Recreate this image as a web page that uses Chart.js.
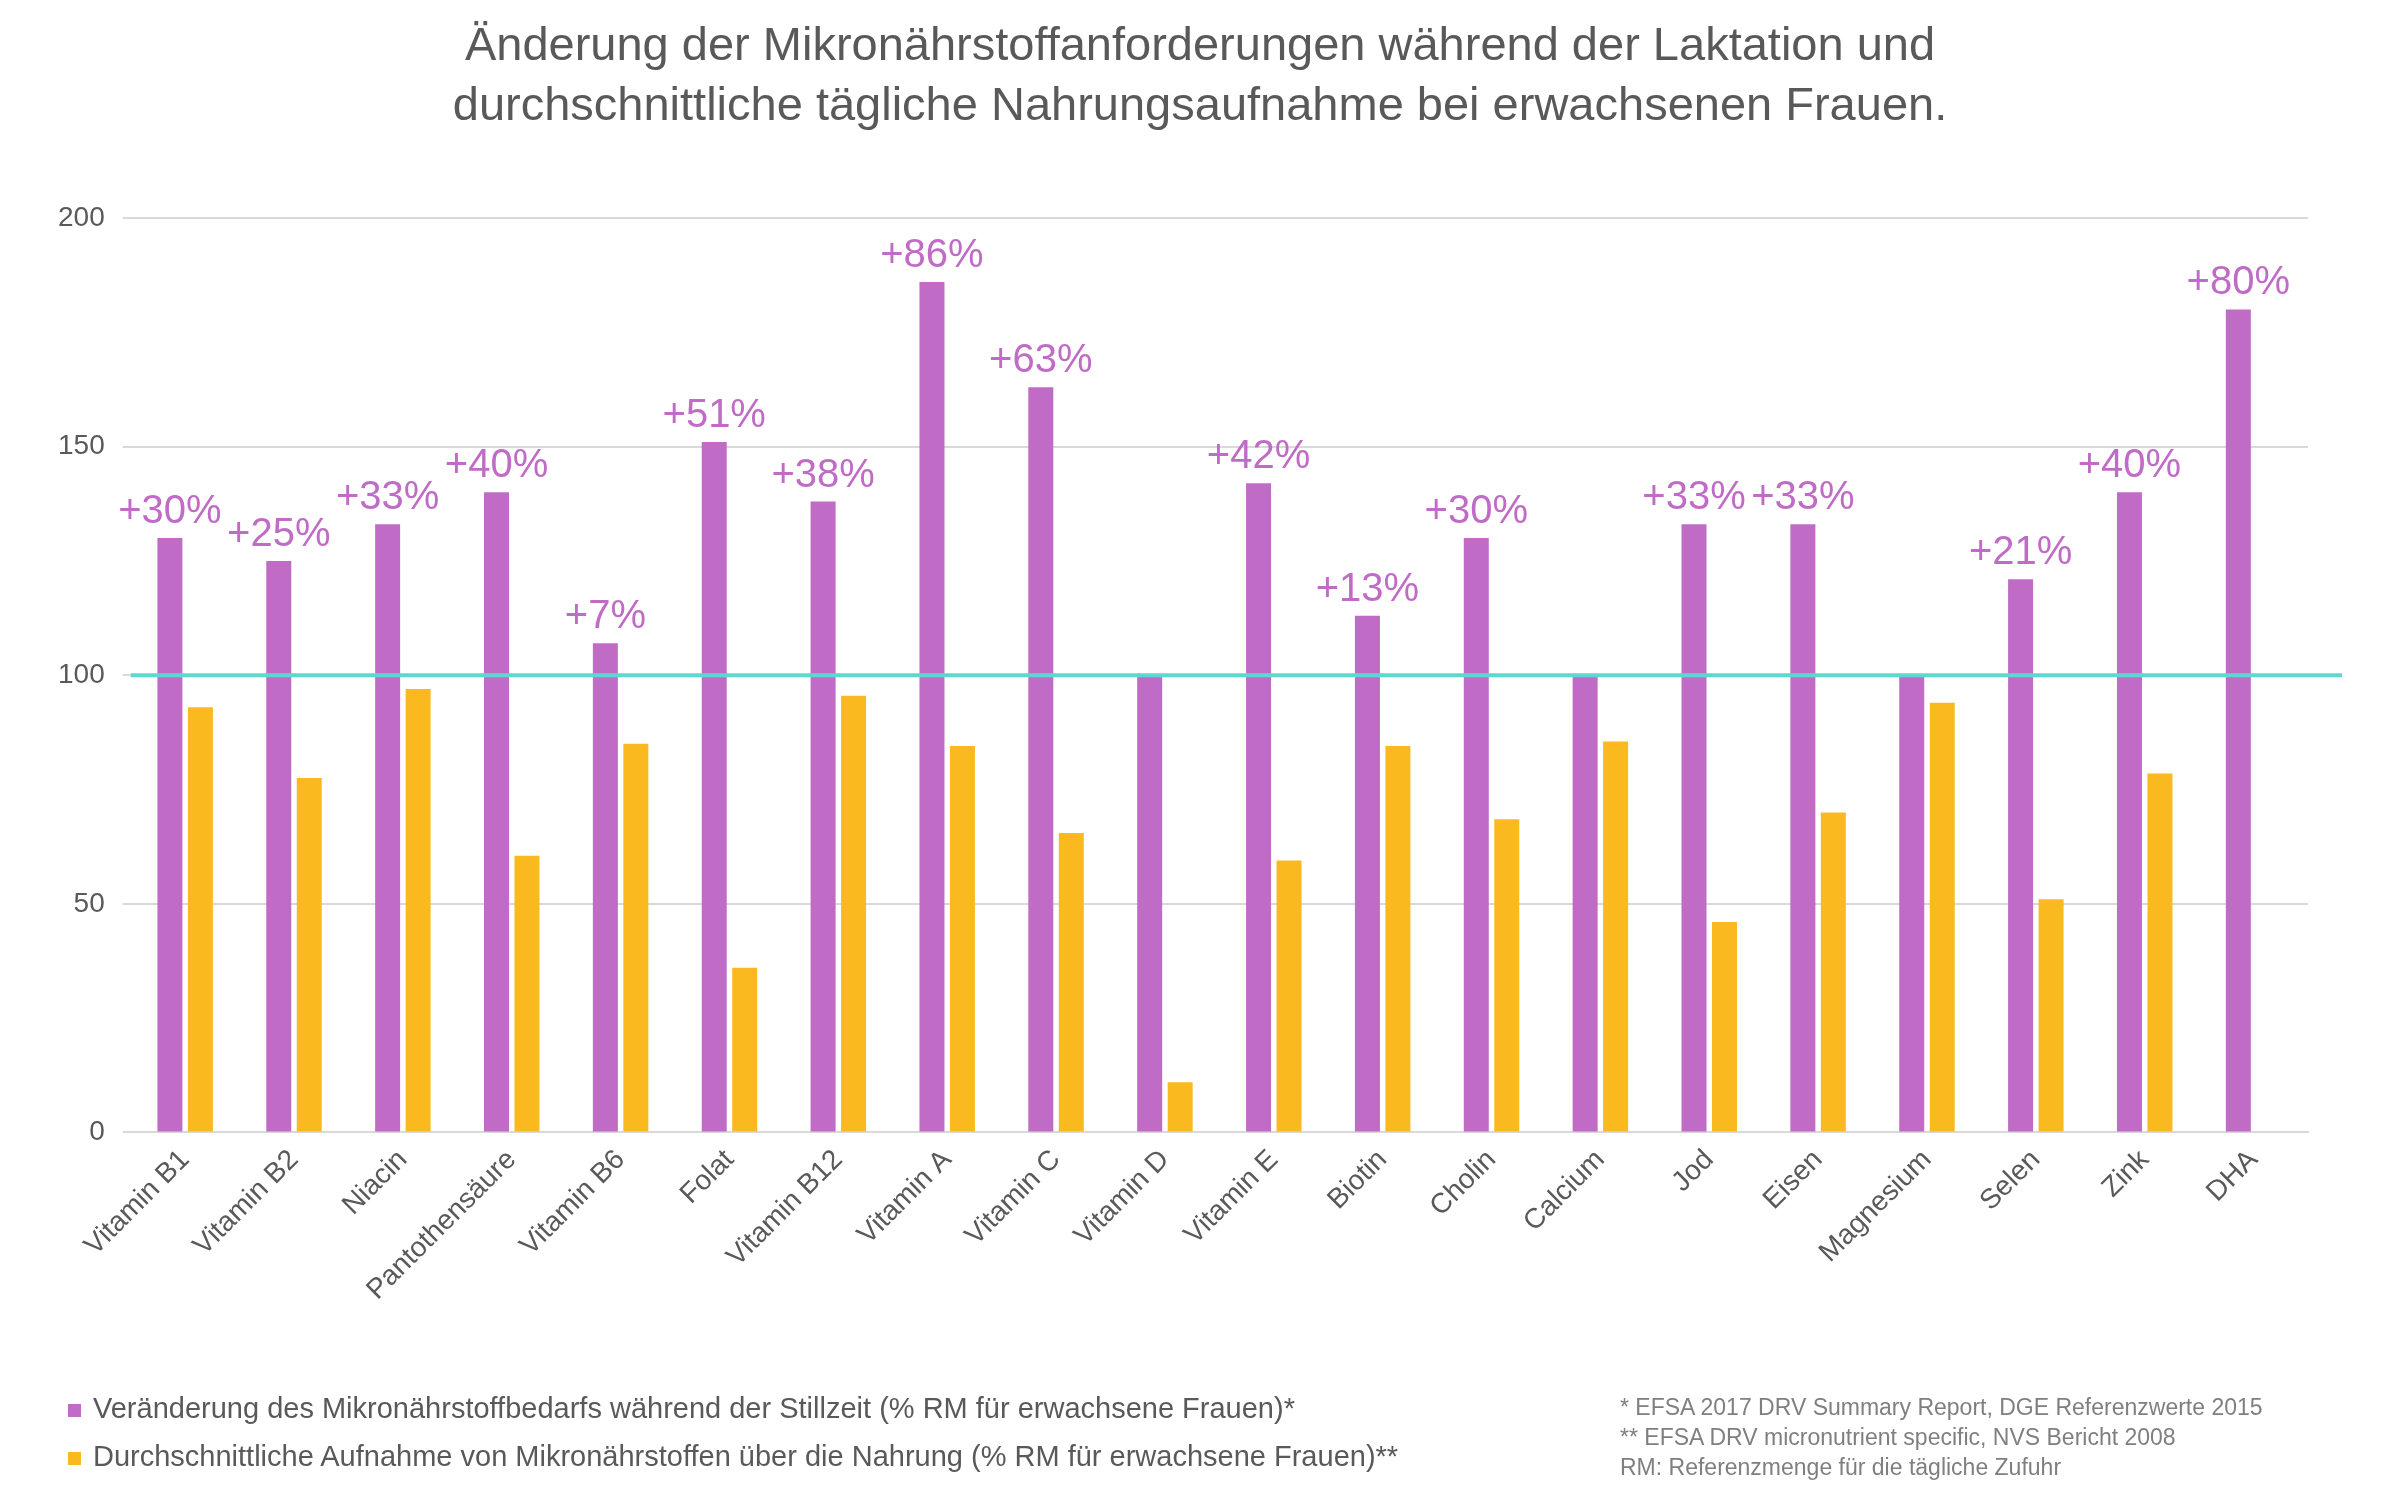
<!DOCTYPE html>
<html><head><meta charset="utf-8">
<script src="https://cdn.jsdelivr.net/npm/chart.js@4.4.1/dist/chart.umd.min.js"></script>
<style>
html,body{margin:0;padding:0;background:#fff;font-family:Arial,"Liberation Sans",sans-serif;}
#wrap{position:relative;width:2400px;height:1500px;}
#title{position:absolute;top:14px;left:0;width:2400px;text-align:center;color:#595959;font-size:47px;line-height:60px;}
canvas{position:absolute;left:0;top:0;}
.leg{position:absolute;left:68px;color:#595959;font-size:29px;}
.leg i{display:inline-block;width:13px;height:13px;margin-right:12px;vertical-align:middle;}
#notes{position:absolute;left:1620px;top:1392px;color:#7f7f7f;font-size:23px;line-height:30px;}
</style></head>
<body><div id="wrap">
<canvas id="c" width="2400" height="1500"></canvas>
<div id="title">Änderung der Mikronährstoffanforderungen während der Laktation und<br>durchschnittliche tägliche Nahrungsaufnahme bei erwachsenen Frauen.</div>
<div class="leg" style="top:1392px"><i style="background:#c06bc6"></i>Veränderung des Mikronährstoffbedarfs während der Stillzeit (% RM für erwachsene Frauen)*</div>
<div class="leg" style="top:1440px"><i style="background:#fbb920"></i>Durchschnittliche Aufnahme von Mikronährstoffen über die Nahrung (% RM für erwachsene Frauen)**</div>
<div id="notes">* EFSA 2017 DRV Summary Report, DGE Referenzwerte 2015<br>** EFSA DRV micronutrient specific, NVS Bericht 2008<br>RM: Referenzmenge für die tägliche Zufuhr</div>
</div>
<script>
var categories = ['Vitamin B1','Vitamin B2','Niacin','Pantothensäure','Vitamin B6','Folat','Vitamin B12','Vitamin A','Vitamin C','Vitamin D','Vitamin E','Biotin','Cholin','Calcium','Jod','Eisen','Magnesium','Selen','Zink','DHA'];
var bedarf = [130,125,133,140,107,151,138,186,163,100,142,113,130,100,133,133,100,121,140,180];
var aufnahme = [93,77.5,97,60.5,85,36,95.5,84.5,65.5,11,59.5,84.5,68.5,85.5,46,70,94,51,78.5,null];
var aenderung = ['+30%','+25%','+33%','+40%','+7%','+51%','+38%','+86%','+63%','','+42%','+13%','+30%','','+33%','+33%','','+21%','+40%','+80%'];
var yTicks = [0,50,100,150,200];

var extras = {
  id:'extras',
  afterDatasetsDraw:function(chart){
    var ctx = chart.ctx, y = chart.scales.y, a = chart.chartArea;
    var py = y.getPixelForValue(100);
    ctx.save();
    ctx.strokeStyle = '#5fd6d0'; ctx.lineWidth = 4;
    ctx.beginPath(); ctx.moveTo(a.left, py); ctx.lineTo(a.right + 34, py); ctx.stroke();
    ctx.fillStyle = '#c06bc6'; ctx.font = '40px Arial, "Liberation Sans"';
    ctx.textAlign = 'center'; ctx.textBaseline = 'bottom';
    chart.getDatasetMeta(0).data.forEach(function(bar, i){
      if (aenderung[i]) ctx.fillText(aenderung[i], bar.x, bar.y - 6);
    });
    ctx.restore();
  }
};

new Chart(document.getElementById('c'), {
  type:'bar',
  data:{labels:categories, datasets:[
    {data:bedarf, backgroundColor:'#c06bc6', categoryPercentage:0.56, barPercentage:0.82},
    {data:aufnahme, backgroundColor:'#fbb920', categoryPercentage:0.56, barPercentage:0.82}
  ]},
  options:{
    responsive:false, animation:false,
    layout:{padding:{top:218, left:40, right:92, bottom:190}},
    plugins:{legend:{display:false}, tooltip:{enabled:false}},
    scales:{
      x:{grid:{display:false}, border:{color:'#d9d9d9', width:2},
         ticks:{color:'#595959', font:{size:28, family:'Arial, "Liberation Sans"'}, maxRotation:45, minRotation:45, autoSkip:false}},
      y:{min:0, max:200, border:{display:false}, grid:{color:'#d9d9d9', lineWidth:2},
         afterBuildTicks:function(s){ s.ticks = yTicks.map(function(v){return {value:v};}); },
         ticks:{color:'#595959', padding:18, font:{size:28, family:'Arial, "Liberation Sans"'}}}
    }
  },
  plugins:[extras]
});
</script>
</body></html>
